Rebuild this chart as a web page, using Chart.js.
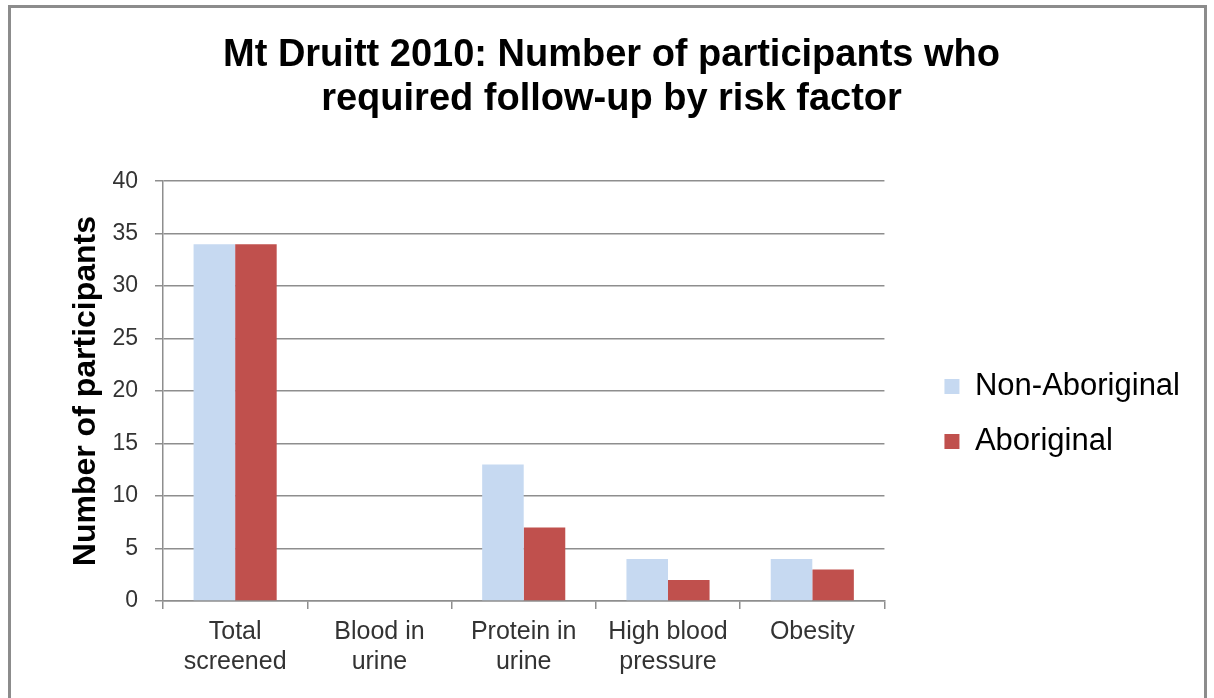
<!DOCTYPE html>
<html lang="en">
<head>
    <meta charset="UTF-8">
    <title>Mt Druitt 2010 follow-up by risk factor</title>
    <style>
        body {
            margin: 0;
            padding: 0;
            background-color: #fff;
        }

        .chart-container {
            position: relative;
            width: 1214px;
            height: 698px;
        }
    </style>
</head>
<body>
    <div class="chart-container">
        <canvas id="followUpChart"></canvas>
    </div>

    <script src="https://cdn.jsdelivr.net/npm/chart.js"></script>
    <script>
        // Chart data
        const categories = [
            ['Total', 'screened'],
            ['Blood in', 'urine'],
            ['Protein in', 'urine'],
            ['High blood', 'pressure'],
            ['Obesity']
        ];
        const seriesNames = ['Non-Aboriginal', 'Aboriginal'];
        const nonAboriginal = [34, 0, 13, 4, 4];
        const aboriginal = [34, 0, 7, 2, 3];
        const yMin = 0;
        const yMax = 40;
        const yStep = 5;

        const fontFamily = '"Liberation Sans", Arial, sans-serif';
        const gridColor = '#8e8e8e';

        // white background plus the grey frame round the picture
        const framePlugin = {
            id: 'frame',
            beforeDraw(chart) {
                const ctx = chart.ctx;
                ctx.save();
                ctx.fillStyle = '#fff';
                ctx.fillRect(0, 0, chart.width, chart.height);
                ctx.strokeStyle = '#8c8c8c';
                ctx.lineWidth = 3;
                ctx.strokeRect(9.5, 6.5, 1196, 720);
                ctx.restore();
            }
        };

        const ctx = document.getElementById('followUpChart').getContext('2d');

        new Chart(ctx, {
            type: 'bar',
            data: {
                labels: categories,
                datasets: [{
                    label: seriesNames[0],
                    data: nonAboriginal,
                    backgroundColor: '#C6D9F1',
                    categoryPercentage: 0.576,
                    barPercentage: 1
                }, {
                    label: seriesNames[1],
                    data: aboriginal,
                    backgroundColor: '#C0504D',
                    categoryPercentage: 0.576,
                    barPercentage: 1
                }]
            },
            options: {
                responsive: true,
                maintainAspectRatio: false,
                animation: false,
                layout: {
                    padding: { top: 10, left: 33, right: 24, bottom: 13 }
                },
                plugins: {
                    tooltip: { enabled: false },
                    title: {
                        display: true,
                        text: ['Mt Druitt 2010: Number of participants who', 'required follow-up by risk factor'],
                        color: '#000',
                        font: { family: fontFamily, size: 38, weight: 'bold', lineHeight: 1.16 },
                        padding: { top: 23, bottom: 60 }
                    },
                    legend: {
                        position: 'right',
                        align: 'start',
                        maxWidth: 320,
                        // empty title only pushes the legend items down
                        title: {
                            display: true,
                            text: '',
                            font: { size: 10, lineHeight: 1.2 },
                            padding: { top: 325, bottom: 0 }
                        },
                        labels: {
                            color: '#000',
                            font: { family: fontFamily, size: 31 },
                            boxWidth: 15,
                            boxHeight: 15,
                            padding: 24
                        }
                    }
                },
                scales: {
                    x: {
                        grid: {
                            drawOnChartArea: false,
                            drawTicks: true,
                            tickLength: 8,
                            color: gridColor,
                            lineWidth: 1.5,
                            offset: true
                        },
                        border: { color: gridColor, width: 1.5 },
                        ticks: {
                            color: '#333',
                            padding: 8,
                            font: { family: fontFamily, size: 25, lineHeight: 1.2 }
                        }
                    },
                    y: {
                        min: yMin,
                        max: yMax,
                        grid: {
                            color: gridColor,
                            lineWidth: 1.5,
                            tickLength: 8
                        },
                        border: { color: gridColor, width: 1.5 },
                        ticks: {
                            stepSize: yStep,
                            color: '#333',
                            padding: 17,
                            font: { family: fontFamily, size: 23 }
                        },
                        title: {
                            display: true,
                            text: 'Number of participants',
                            color: '#000',
                            font: { family: fontFamily, size: 32, weight: 'bold', lineHeight: 1.2 },
                            padding: { top: 34, bottom: -10 }
                        }
                    },
                    // empty right-hand axis, only keeps the gap between plot and legend
                    yGap: {
                        position: 'right',
                        display: true,
                        grid: { display: false },
                        border: { display: false },
                        ticks: { display: false },
                        afterFit(scale) {
                            scale.width = 36;
                        }
                    }
                }
            },
            plugins: [framePlugin]
        });
    </script>
</body>
</html>
